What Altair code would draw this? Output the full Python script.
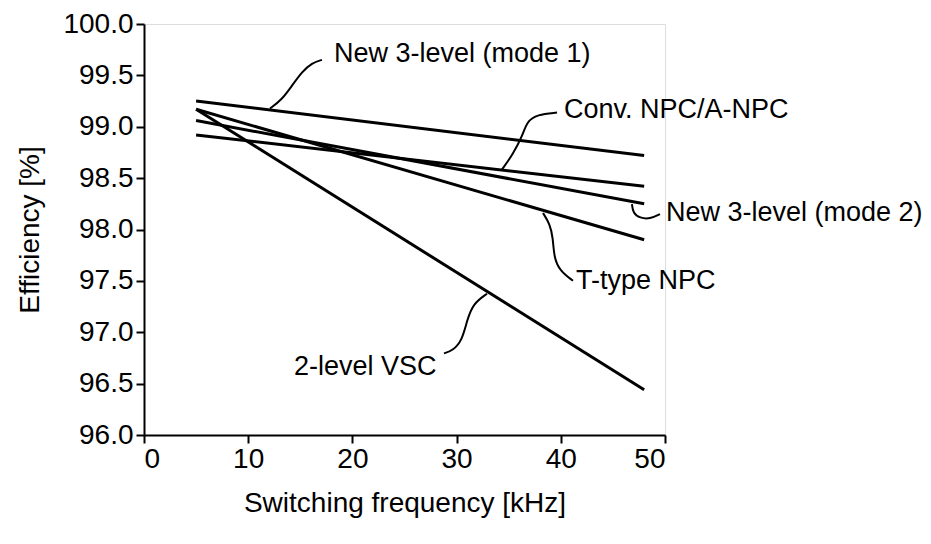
import altair as alt
import pandas as pd

FONT = "Liberation Sans, Arial, Helvetica, sans-serif"

# Series (efficiency [%] at 5 kHz and 48 kHz)
freq = [5, 48]
series_names = ["New 3-level (mode 1)", "Conv. NPC/A-NPC", "New 3-level (mode 2)", "T-type NPC", "2-level VSC"]
eff_start = [99.25, 98.92, 99.06, 99.17, 99.17]
eff_end = [98.72, 98.42, 98.25, 97.90, 96.44]

# Callout leader curves (data units)
lead_m1_x = [12.09, 13.24, 14.20, 15.16, 16.12, 17.08]
lead_m1_y = [99.177, 99.264, 99.40, 99.535, 99.622, 99.651]
lead_conv_x = [34.36, 35.41, 36.37, 36.76, 37.72, 39.64]
lead_conv_y = [98.586, 98.731, 98.925, 99.051, 99.119, 99.138]
lead_m2_x = [46.83, 46.93, 47.60, 48.56, 49.52]
lead_m2_y = [98.247, 98.160, 98.111, 98.102, 98.150]
lead_t_x = [38.29, 38.96, 39.25, 39.35, 39.92, 41.17]
lead_t_y = [98.160, 98.053, 97.918, 97.724, 97.598, 97.501]
lead_2l_x = [32.92, 31.57, 31.00, 30.52, 29.65, 28.79]
lead_2l_y = [97.375, 97.278, 97.114, 96.920, 96.823, 96.794]

# Label anchor positions (left edge, vertical middle)
label_x = [18.14, 40.21, 50.0, 41.36, 14.30]
label_y = [99.71, 99.167, 98.16, 97.501, 96.659]

x_ticks = [0, 10, 20, 30, 40, 50]
y_ticks = [96.0, 96.5, 97.0, 97.5, 98.0, 98.5, 99.0, 99.5, 100.0]

rows = []
for name, s, e in zip(series_names, eff_start, eff_end):
    rows.append({"series": name, "f": freq[0], "eff": s})
    rows.append({"series": name, "f": freq[1], "eff": e})
lines_df = pd.DataFrame(rows)

lead_rows = []
for lid, (xs_, ys_) in enumerate([(lead_m1_x, lead_m1_y), (lead_conv_x, lead_conv_y),
                                  (lead_m2_x, lead_m2_y), (lead_t_x, lead_t_y),
                                  (lead_2l_x, lead_2l_y)]):
    for i, (xv, yv) in enumerate(zip(xs_, ys_)):
        lead_rows.append({"lid": lid, "i": i, "f": xv, "eff": yv})
lead_df = pd.DataFrame(lead_rows)

label_df = pd.DataFrame({"text": series_names, "f": label_x, "eff": label_y})

xs = alt.Scale(domain=[0, 50], nice=False, zero=False)
ys = alt.Scale(domain=[96, 100], nice=False, zero=False)

x_axis = alt.Axis(values=x_ticks, format="d", title="Switching frequency [kHz]", grid=False,
                  tickSize=8, tickWidth=2, domainWidth=2, domainColor="black", tickColor="black",
                  labelFont=FONT, labelFontSize=28, labelColor="black", labelPadding=2,
                  titleFont=FONT, titleFontSize=28, titleFontWeight="normal", titleColor="black",
                  titlePadding=16)
y_axis = alt.Axis(values=y_ticks, format=".1f", title="Efficiency [%]", grid=False,
                  tickSize=8, tickWidth=2, domainWidth=2, domainColor="black", tickColor="black",
                  labelFont=FONT, labelFontSize=28, labelColor="black", labelPadding=3,
                  titleFont=FONT, titleFontSize=28, titleFontWeight="normal", titleColor="black",
                  titlePadding=18)

lines = alt.Chart(lines_df).mark_line(color="black", strokeWidth=3).encode(
    x=alt.X("f:Q", scale=xs, axis=x_axis),
    y=alt.Y("eff:Q", scale=ys, axis=y_axis),
    detail="series:N",
)

leaders = alt.Chart(lead_df).mark_line(color="black", strokeWidth=2, interpolate="basis").encode(
    x=alt.X("f:Q", scale=xs),
    y=alt.Y("eff:Q", scale=ys),
    detail="lid:N",
    order="i:Q",
)

labels = alt.Chart(label_df).mark_text(align="left", baseline="middle", font=FONT,
                                       fontSize=27, color="black", dx=1).encode(
    x=alt.X("f:Q", scale=xs),
    y=alt.Y("eff:Q", scale=ys),
    text="text:N",
)

chart = alt.layer(lines, leaders, labels).properties(
    width=521, height=411,
    autosize=alt.AutoSizeParams(type="none"),
    padding={"left": 136, "top": 16, "right": 258, "bottom": 101},
).configure_view(stroke=None).configure(background="white")

chart.save("out.html", embed_options={"renderer": "svg", "actions": False})
